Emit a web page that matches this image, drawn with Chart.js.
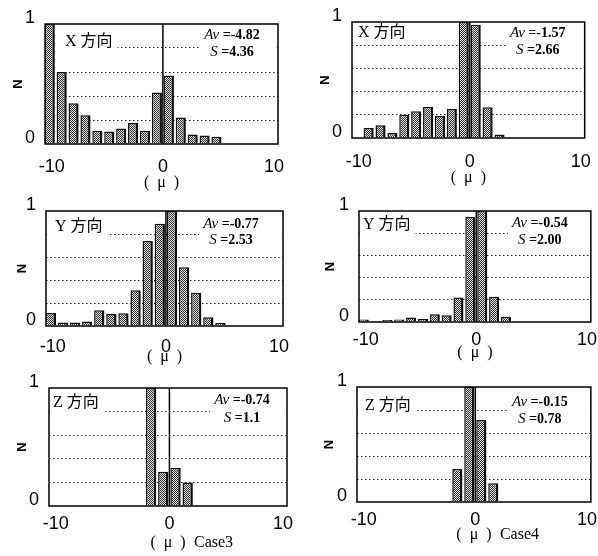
<!DOCTYPE html>
<html>
<head>
<meta charset="utf-8">
<script src="https://cdn.jsdelivr.net/npm/chart.js@4.4.0/dist/chart.umd.min.js"></script>
<style>
html, body { margin: 0; padding: 0; background: #fff; }
#wrap { position: relative; width: 598px; height: 556px; overflow: hidden; }
#wrap canvas { position: absolute; }
</style>
</head>
<body>
<div id="wrap"></div>
<script>
// bin centres on the μ axis (same bins for every histogram)
const binCenters = [-10.17, -9.1, -8.03, -6.96, -5.89, -4.82, -3.75, -2.68, -1.61, -0.54, 0.54, 1.61, 2.68, 3.75, 4.82];
const xTicks = [-10, 0, 10];
const yTicks = [0, 0.2, 0.4, 0.6, 0.8, 1];

// normalised count N in each bin (null = empty bin)
const case3X = [1.0, 0.6, 0.34, 0.24, 0.11, 0.105, 0.13, 0.175, 0.11, 0.43, 0.57, 0.22, 0.08, 0.07, 0.06];
const case4X = [null, 0.086, 0.11, 0.043, 0.2, 0.23, 0.27, 0.19, 0.25, 1.0, 0.977, 0.266, 0.03, null, null];
const case3Y = [0.112, 0.03, 0.03, 0.04, 0.137, 0.104, 0.11, 0.31, 0.74, 0.89, 1.0, 0.51, 0.29, 0.077, 0.027];
const case4Y = [0.022, 0.008, 0.017, 0.022, 0.04, 0.028, 0.07, 0.06, 0.22, 0.945, 1.0, 0.227, 0.047, null, null];
const case3Z = [null, null, null, null, null, null, null, null, 1.0, 0.29, 0.325, 0.2, null, null, null];
const case4Z = [null, null, null, null, null, null, null, null, 0.287, 1.0, 0.713, 0.163, null, null, null];

const directions = ['X 方向', 'X 方向', 'Y 方向', 'Y 方向', 'Z 方向', 'Z 方向'];
const averages = ['-4.82', '-1.57', '-0.77', '-0.54', '-0.74', '-0.15'];
const deviations = ['4.36', '2.66', '2.53', '2.00', '1.1', '0.78'];
const caseNames = ['', '', '', '', 'Case3', 'Case4'];
const series = [case3X, case4X, case3Y, case4Y, case3Z, case4Z];

// where each panel sits on the page: cell box, plot box and label offsets
const panels = [
  { cell: [0, 0, 299, 192],     plot: [45, 24, 278, 144],  tDx: 20, tDy: 18, aDx: 46, aDy: 11, sDy: 28, tickPad: 6, xtPad: 1,  ytPad: 11.5 },
  { cell: [299, 0, 299, 192],   plot: [352, 22, 587, 138], tDx: 6,  tDy: 11, aDx: 47, aDy: 11, sDy: 28, tickPad: 7, xtPad: 6,  ytPad: 19.5 },
  { cell: [0, 192, 299, 176],   plot: [46, 204, 283, 326], tDx: 9,  tDy: 16, aDx: 52, aDy: 13, sDy: 29, tickPad: 4, xtPad: 3,  ytPad: 15.5 },
  { cell: [299, 192, 299, 176], plot: [359, 201, 596, 322], tDx: 4, tDy: 14, aDx: 51, aDy: 12, sDy: 29, tickPad: 1, xtPad: 7,  ytPad: 24.5 },
  { cell: [0, 368, 299, 188],   plot: [49, 388, 287, 506], tDx: 4,  tDy: 15, aDx: 45, aDy: 12, sDy: 30, tickPad: 1, xtPad: 5,  ytPad: 15.5 },
  { cell: [299, 368, 299, 188], plot: [357, 383, 596, 502], tDx: 8, tDy: 19, aDx: 51, aDy: 15, sDy: 32, tickPad: 1, xtPad: 13, ytPad: 23.5 }
];

const sansFont = "'Liberation Sans', Arial, sans-serif";
const serifFont = "'Liberation Serif', 'Noto Sans CJK JP', serif";

function makePattern() {
  const c = document.createElement('canvas');
  c.width = 2; c.height = 2;
  const g = c.getContext('2d');
  g.fillStyle = '#e2e2e2'; g.fillRect(0, 0, 2, 2);
  g.fillStyle = '#303030'; g.fillRect(0, 0, 1, 1); g.fillRect(1, 1, 1, 1);
  return g.createPattern(c, 'repeat');
}

const panelDecor = {
  id: 'panelDecor',
  beforeDatasetsDraw(chart, args, opts) {
    const { ctx, chartArea: a } = chart;
    const p = opts.panel;
    ctx.save();
    // direction label with a white box behind it
    ctx.font = "16px " + serifFont;
    ctx.textBaseline = 'middle';
    ctx.textAlign = 'left';
    const tw = ctx.measureText(opts.title).width;
    ctx.fillStyle = '#fff';
    ctx.fillRect(a.left + 1, a.top + 1, p.tDx + tw + 4, p.tDy + 10);
    ctx.fillStyle = '#000';
    ctx.fillText(opts.title, a.left + p.tDx, a.top + p.tDy);

    // Av / S
    const cx = a.right - p.aDx;
    const avA = 'Av', avB = ' =' + opts.av;
    const sA = 'S', sB = ' =' + opts.s;
    const fItal = "italic 15px " + serifFont, fNum = "bold 14px " + serifFont;
    ctx.font = fItal;
    const wA1 = ctx.measureText(avA).width, wS1 = ctx.measureText(sA).width;
    ctx.font = fNum;
    const wA2 = ctx.measureText(avB).width, wS2 = ctx.measureText(sB).width;
    const avLeft = cx - (wA1 + wA2) / 2, sLeft = cx - (wS1 + wS2) / 2;
    ctx.fillStyle = '#fff';
    ctx.fillRect(Math.min(avLeft, sLeft) - 4, a.top + 1, a.right - Math.min(avLeft, sLeft) + 3, p.sDy + 8);
    ctx.fillStyle = '#000';
    ctx.font = fItal;
    ctx.fillText(avA, avLeft, a.top + p.aDy);
    ctx.fillText(sA, sLeft, a.top + p.sDy);
    ctx.font = fNum;
    ctx.fillText(avB, avLeft + wA1, a.top + p.aDy);
    ctx.fillText(sB, sLeft + wS1, a.top + p.sDy);
    ctx.restore();
  },
  afterDatasetsDraw(chart, args, opts) {
    const { ctx, chartArea: a, scales } = chart;
    ctx.save();
    // vertical line at μ = 0
    const x0 = scales.x.getPixelForValue(0);
    ctx.strokeStyle = '#000';
    ctx.lineWidth = 1.5;
    ctx.beginPath();
    ctx.moveTo(x0, a.top);
    ctx.lineTo(x0, a.bottom);
    ctx.stroke();
    // frame
    ctx.strokeRect(a.left, a.top, a.right - a.left, a.bottom - a.top);
    ctx.restore();
  },
  afterDraw(chart, args, opts) {
    // case name beside the axis title
    if (!opts.caseName) return;
    const { ctx, chartArea: a, height } = chart;
    ctx.save();
    ctx.font = "16px " + serifFont;
    ctx.textBaseline = 'middle';
    ctx.textAlign = 'left';
    ctx.fillStyle = '#000';
    ctx.fillText(opts.caseName, (a.left + a.right) / 2 + 26, height - opts.panel.xtPad - 8);
    ctx.restore();
  }
};

const wrap = document.getElementById('wrap');
const pattern = makePattern();

panels.forEach((p, i) => {
  const [cx, cy, cw, ch] = p.cell;
  const [L, T, R, B] = p.plot;
  const cv = document.createElement('canvas');
  cv.style.left = cx + 'px';
  cv.style.top = cy + 'px';
  cv.style.width = cw + 'px';
  cv.style.height = ch + 'px';
  cv.width = cw; cv.height = ch;
  wrap.appendChild(cv);

  new Chart(cv, {
    type: 'bar',
    data: {
      datasets: [{
        data: binCenters.map((x, k) => ({ x: x, y: series[i][k] })),
        backgroundColor: pattern,
        borderColor: '#111',
        borderWidth: { top: 1.5, left: 1.5, right: 2.5, bottom: 0 },
        barPercentage: 0.85,
        categoryPercentage: 1
      }]
    },
    options: {
      responsive: false,
      animation: false,
      devicePixelRatio: 1,
      layout: { padding: { top: T - cy, right: cx + cw - R, left: 0, bottom: 0 } },
      plugins: {
        legend: { display: false },
        tooltip: { enabled: false },
        panelDecor: { panel: p, title: directions[i], av: averages[i], s: deviations[i], caseName: caseNames[i] }
      },
      scales: {
        x: {
          type: 'linear',
          min: -10.6,
          max: 10.35,
          offset: false,
          afterBuildTicks: s => { s.ticks = xTicks.map(v => ({ value: v })); },
          afterFit: s => { s.height = cy + ch - B; },
          grid: { display: false, offset: false },
          border: { display: false },
          ticks: {
            font: { family: sansFont, size: 18, lineHeight: 1 },
            color: '#000',
            padding: p.tickPad,
            maxRotation: 0,
            autoSkip: false,
            callback: v => String(v)
          },
          title: {
            display: true,
            text: '(  μ  )',
            font: { family: serifFont, size: 16, lineHeight: 1 },
            color: '#000',
            padding: { top: 0, bottom: p.xtPad }
          }
        },
        y: {
          min: 0,
          max: 1,
          afterBuildTicks: s => { s.ticks = yTicks.map(v => ({ value: v })); },
          afterFit: s => { s.width = L - cx; },
          grid: {
            drawTicks: false,
            lineWidth: 1,
            color: c => (c.tick && c.tick.value > 0.01 && c.tick.value < 0.99) ? '#222' : 'rgba(0,0,0,0)'
          },
          border: { display: false, dash: [1.5, 2.5] },
          ticks: {
            font: { family: sansFont, size: 18, lineHeight: 1 },
            color: '#000',
            padding: 10,
            labelOffset: -6,
            autoSkip: false,
            callback: v => (v === 0 || v === 1) ? String(v) : ''
          },
          title: {
            display: true,
            text: 'N',
            font: { family: sansFont, size: 13, weight: 'bold', lineHeight: 1 },
            color: '#000',
            padding: { top: p.ytPad, bottom: 0 }
          }
        }
      }
    },
    plugins: [panelDecor]
  });
});
</script>
</body>
</html>
